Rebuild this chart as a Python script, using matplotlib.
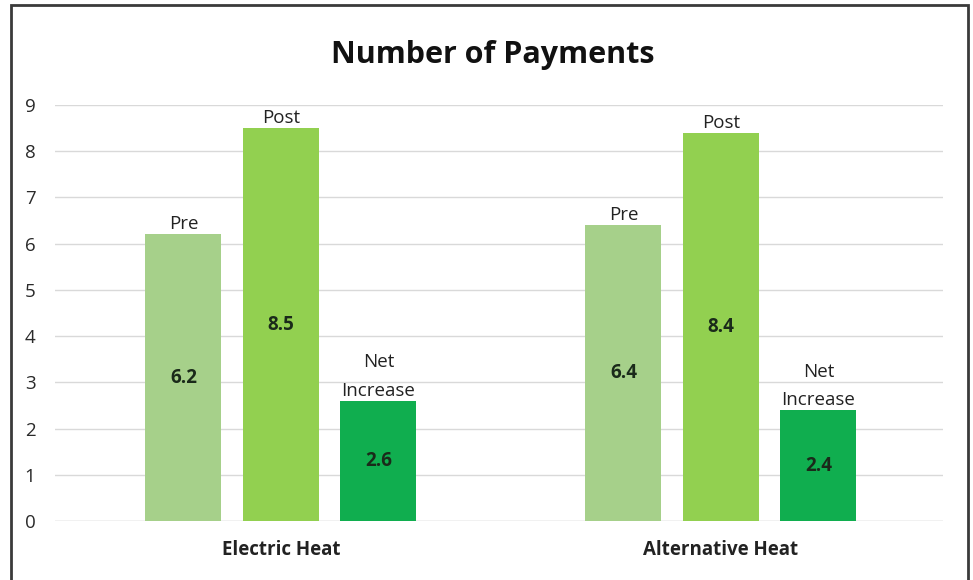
import matplotlib
matplotlib.use("Agg")
import matplotlib.pyplot as plt
import numpy as np
from matplotlib.patches import Rectangle

categories = ["Electric Heat", "Alternative Heat"]
series_names = ["Pre", "Post", "Net\nIncrease"]
pre_vals = [6.2, 6.4]
post_vals = [8.5, 8.4]
net_vals = [2.6, 2.4]
value_labels = [["6.2", "6.4"], ["8.5", "8.4"], ["2.6", "2.4"]]
colors = ["#a6d08a", "#92d050", "#10ae4f"]

plt.rcParams['font.family'] = ['Open Sans', 'DejaVu Sans']

fig = plt.figure(figsize=(9.73, 5.8), dpi=100)
ax = fig.add_axes([0.0565, 0.1017, 0.9125, 0.7173])

x = np.arange(len(categories))
width = 0.1727
step = 0.2216
series = [pre_vals, post_vals, net_vals]
for i, vals in enumerate(series):
    pos = x + (i - 1) * step
    ax.bar(pos, vals, width=width, color=colors[i], zorder=3)
    for j, (p, v) in enumerate(zip(pos, vals)):
        ax.text(p, v / 2, value_labels[i][j], ha='center', va='center',
                fontsize=13.5, fontweight='bold', color='#1a2a1a', zorder=4)
        ax.text(p, v + 0.02, series_names[i], ha='center', va='bottom',
                fontsize=13.5, color='#222222', zorder=4, linespacing=1.75)

ax.set_xlim(-0.5136, 1.5045)
ax.set_ylim(0, 9)
ax.set_yticks(range(0, 10))
ax.set_xticks(x)
ax.set_xticklabels(categories, fontsize=13.5, fontweight='bold', color='#222222')
ax.tick_params(axis='y', length=0, labelsize=13.5, labelcolor='#2a2a2a', pad=14)
ax.tick_params(axis='x', length=0, pad=14)
ax.grid(axis='y', color='#d9d9d9', linewidth=1, zorder=0)
for s in ax.spines.values():
    s.set_visible(False)
ax.axhline(0, color='#d9d9d9', linewidth=1, zorder=1)

fig.text(0.506, 0.905, "Number of Payments", ha='center', va='center',
         fontsize=22, fontweight='bold', color='#111111')

fig.patches.append(Rectangle((0.0108, -0.01), 0.9845, 1.0014, transform=fig.transFigure,
                             fill=False, edgecolor='#3a3a3a', linewidth=2))

fig.savefig("out.png", dpi=100)
